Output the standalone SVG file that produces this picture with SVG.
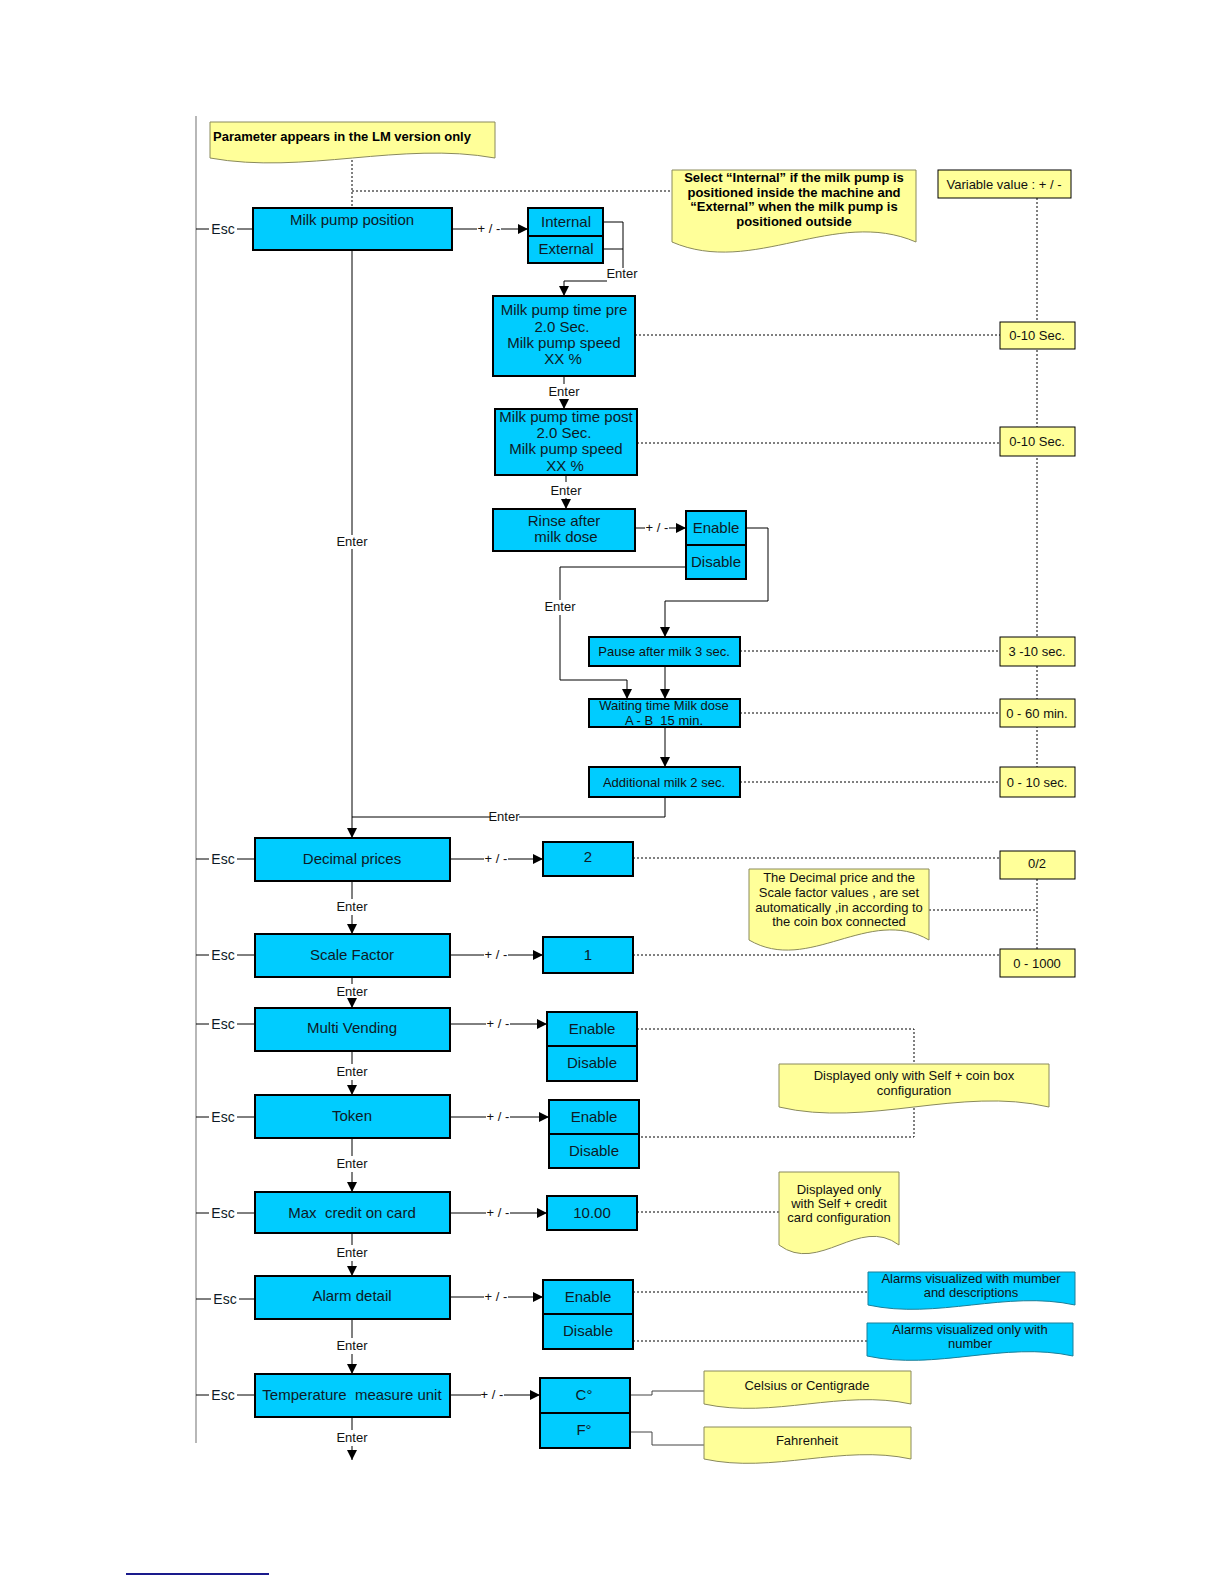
<svg xmlns="http://www.w3.org/2000/svg" width="1224" height="1584" viewBox="0 0 1224 1584">
<defs>
<marker id="ar" viewBox="0 0 10 10" refX="10" refY="5" markerWidth="10" markerHeight="10" markerUnits="userSpaceOnUse" orient="auto"><path d="M0,0 L10,5 L0,10 z" fill="#000"/></marker>
<style>
.box{fill:#00CCFF;stroke:#000;stroke-width:2}
.val{fill:#FFFF99;stroke:#000;stroke-width:1}
.note{fill:#FFFF99;stroke:#8a8a5c;stroke-width:1}
.bnote{fill:#00CCFF;stroke:#1a7f99;stroke-width:1}
text{font-family:"Liberation Sans",Arial,sans-serif;fill:#0d1a26;text-anchor:middle}
.t{font-size:15px}
.s{font-size:13px;fill:#111}
.e{font-size:14px;fill:#111}
.b{font-size:13px;font-weight:bold;fill:#000}
.ln{stroke:#000;stroke-width:1;fill:none}
.ar{marker-end:url(#ar)}
.dot{stroke:#000;stroke-width:1;stroke-dasharray:2 2;fill:none}
.gr{stroke:#888;stroke-width:1.2;fill:none}
.thin{stroke:#444;stroke-width:1;fill:none}
</style>
</defs>
<rect width="1224" height="1584" fill="#fff"/>

<g id="connectors">
<path class="gr" d="M196,116 V1443"/>
<path class="ln" d="M196,229 H209 M237,229 H253 M196,859 H209 M237,859 H255 M196,955 H209 M237,955 H255 M196,1024 H209 M237,1024 H255 M196,1117 H209 M237,1117 H255 M196,1213 H209 M237,1213 H255 M196,1299 H211 M239,1299 H255 M196,1395 H209 M237,1395 H255"/>
<g class="e"><text x="223" y="234">Esc</text><text x="223" y="864">Esc</text><text x="223" y="960">Esc</text><text x="223" y="1029">Esc</text><text x="223" y="1122">Esc</text><text x="223" y="1218">Esc</text><text x="225" y="1304">Esc</text><text x="223" y="1400">Esc</text></g>
<path class="dot" d="M352,160 V208 M352,191 H672"/>
<path class="ln" d="M352,250 V535"/>
<path class="ln ar" d="M352,549 V838"/>
<text class="s" x="352" y="546">Enter</text>
<path class="ln" d="M452,229 H477"/>
<text class="s" x="489" y="233">+ / -</text>
<path class="ln ar" d="M501,229 H528"/>
<path class="ln" d="M603,222 H623 V268 M603,249 H623"/>
<text class="s" x="622" y="278">Enter</text>
<path class="ln ar" d="M607,281 H564 V296"/>
<path class="ln" d="M564,376 V384"/>
<text class="s" x="564" y="396">Enter</text>
<path class="ln ar" d="M564,399 V409"/>
<path class="ln" d="M566,475 V482"/>
<text class="s" x="566" y="495">Enter</text>
<path class="ln ar" d="M566,498 V509"/>
<path class="ln" d="M635,528 H645"/>
<text class="s" x="657" y="532">+ / -</text>
<path class="ln ar" d="M669,528 H686"/>
<path class="ln ar" d="M746,528 H768 V601 H665 V637"/>
<path class="ln" d="M686,567 H560 V600"/>
<text class="s" x="560" y="611">Enter</text>
<path class="ln ar" d="M560,615 V680 H627 V699"/>
<path class="ln ar" d="M665,666 V699"/>
<path class="ln ar" d="M665,727 V767"/>
<path class="ln" d="M665,797 V817 H519 M490,817 H352"/>
<text class="s" x="504" y="821">Enter</text>
<path class="dot" d="M635,335 H1000 M637,443 H1000 M740,651 H1000 M740,713 H1000 M740,782 H1000"/>
<path class="dot" d="M1037,198 V767 M1037,879 V949"/>
<path class="ln" d="M450,859 H484"/>
<text class="s" x="496" y="863">+ / -</text>
<path class="ln ar" d="M508,859 H543"/>
<path class="ln" d="M352,881 V899"/>
<text class="s" x="352" y="911">Enter</text>
<path class="ln ar" d="M352,915 V934"/>
<path class="dot" d="M633,858 H1000 M929,910 H1037 M633,955 H1000"/>
<path class="ln" d="M450,955 H484"/>
<text class="s" x="496" y="959">+ / -</text>
<path class="ln ar" d="M508,955 H543"/>
<path class="ln" d="M352,977 V984"/>
<text class="s" x="352" y="996">Enter</text>
<path class="ln ar" d="M352,1000 V1008"/>
<path class="ln" d="M450,1024 H486"/>
<text class="s" x="498" y="1028">+ / -</text>
<path class="ln ar" d="M510,1024 H547"/>
<path class="ln" d="M352,1051 V1064"/>
<text class="s" x="352" y="1076">Enter</text>
<path class="ln ar" d="M352,1080 V1095"/>
<path class="dot" d="M637,1029 H914 V1137 H639"/>
<path class="ln" d="M450,1117 H486"/>
<text class="s" x="498" y="1121">+ / -</text>
<path class="ln ar" d="M510,1117 H549"/>
<path class="ln" d="M352,1138 V1156"/>
<text class="s" x="352" y="1168">Enter</text>
<path class="ln ar" d="M352,1172 V1192"/>
<path class="ln" d="M450,1213 H486"/>
<text class="s" x="498" y="1217">+ / -</text>
<path class="ln ar" d="M510,1213 H547"/>
<path class="dot" d="M637,1212 H779"/>
<path class="ln" d="M352,1233 V1245"/>
<text class="s" x="352" y="1257">Enter</text>
<path class="ln ar" d="M352,1261 V1276"/>
<path class="ln" d="M450,1297 H484"/>
<text class="s" x="496" y="1301">+ / -</text>
<path class="ln ar" d="M508,1297 H543"/>
<path class="dot" d="M633,1292 H868 M633,1341 H867"/>
<path class="ln" d="M352,1319 V1338"/>
<text class="s" x="352" y="1350">Enter</text>
<path class="ln ar" d="M352,1354 V1374"/>
<path class="ln" d="M450,1395 H481"/>
<text class="s" x="492" y="1399">+ / -</text>
<path class="ln ar" d="M504,1395 H540"/>
<path class="thin" d="M630,1395 H652 V1391 H704 M630,1432 H652 V1445 H704"/>
<path class="ln" d="M352,1417 V1430"/>
<text class="s" x="352" y="1442">Enter</text>
<path class="ln ar" d="M352,1446 V1460"/>
<path d="M126,1574 H269" stroke="#1a1a8c" stroke-width="2"/>
</g>

<g id="note-lm"><path class="note" d="M210,122 H495 V158 C401,141 304,175 210,158 Z"/><text class="b" x="213" y="141" style="text-anchor:start">Parameter appears in the LM version only</text></g>
<g id="milk-pump-position"><rect class="box" x="253" y="208" width="199" height="42"/><text class="t" x="352" y="225">Milk pump position</text></g>
<g id="internal"><rect class="box" x="528" y="208" width="75" height="28"/><text class="t" x="566" y="227">Internal</text></g>
<g id="external"><rect class="box" x="528" y="236" width="75" height="27"/><text class="t" x="566" y="254">External</text></g>
<g id="note-select"><path class="note" d="M672,170 H916 V242 C835,207 753,277 672,242 Z"/><text class="b" x="794" y="182">Select “Internal” if the milk pump is</text><text class="b" x="794" y="197">positioned inside the machine and</text><text class="b" x="794" y="211">“External” when the milk pump is</text><text class="b" x="794" y="226">positioned outside</text></g>
<g id="variable-value"><rect class="val" x="938" y="170" width="133" height="28"/><text class="s" x="1004" y="189">Variable value : + / -</text></g>
<g id="milk-pre"><rect class="box" x="493" y="296" width="142" height="80"/><text class="t" x="564" y="315">Milk pump time pre</text><text class="t" x="562" y="332">2.0 Sec.</text><text class="t" x="564" y="348">Milk pump speed</text><text class="t" x="563" y="364">XX %</text></g>
<g id="val-pre"><rect class="val" x="1000" y="322" width="75" height="27"/><text class="s" x="1037" y="340">0-10 Sec.</text></g>
<g id="milk-post"><rect class="box" x="495" y="409" width="142" height="66"/><text class="t" x="566" y="422">Milk pump time post</text><text class="t" x="564" y="438">2.0 Sec.</text><text class="t" x="566" y="454">Milk pump speed</text><text class="t" x="565" y="471">XX %</text></g>
<g id="val-post"><rect class="val" x="1000" y="427" width="75" height="29"/><text class="s" x="1037" y="446">0-10 Sec.</text></g>
<g id="rinse"><rect class="box" x="493" y="509" width="142" height="42"/><text class="t" x="564" y="526">Rinse after</text><text class="t" x="566" y="542">milk dose</text></g>
<g id="rinse-enable"><rect class="box" x="686" y="511" width="60" height="34"/><text class="t" x="716" y="533">Enable</text></g>
<g id="rinse-disable"><rect class="box" x="686" y="545" width="60" height="34"/><text class="t" x="716" y="567">Disable</text></g>
<g id="pause"><rect class="box" x="589" y="637" width="151" height="29"/><text class="s" x="664" y="656">Pause after milk 3 sec.</text></g>
<g id="val-pause"><rect class="val" x="1000" y="637" width="75" height="29"/><text class="s" x="1037" y="656">3 -10 sec.</text></g>
<g id="waiting"><rect class="box" x="589" y="699" width="151" height="28"/><text class="s" x="664" y="710">Waiting time Milk dose</text><text class="s" x="664" y="725">A - B&#160; 15 min.</text></g>
<g id="val-waiting"><rect class="val" x="1000" y="699" width="75" height="28"/><text class="s" x="1037" y="718">0 - 60 min.</text></g>
<g id="additional"><rect class="box" x="589" y="767" width="151" height="30"/><text class="s" x="664" y="787">Additional milk 2 sec.</text></g>
<g id="val-additional"><rect class="val" x="1000" y="767" width="75" height="30"/><text class="s" x="1037" y="787">0 - 10 sec.</text></g>
<g id="decimal"><rect class="box" x="255" y="838" width="195" height="43"/><text class="t" x="352" y="864">Decimal prices</text></g>
<g id="val-2"><rect class="box" x="543" y="842" width="90" height="34"/><text class="t" x="588" y="862">2</text></g>
<g id="range-02"><rect class="val" x="1000" y="851" width="75" height="28"/><text class="s" x="1037" y="868">0/2</text></g>
<g id="note-decimal"><path class="note" d="M749,869 H929 V940 C869,905 809,975 749,940 Z"/><text class="s" x="839" y="882">The Decimal price and the</text><text class="s" x="839" y="897">Scale factor values , are set</text><text class="s" x="839" y="912">automatically ,in according to</text><text class="s" x="839" y="926">the coin box connected</text></g>
<g id="scale"><rect class="box" x="255" y="934" width="195" height="43"/><text class="t" x="352" y="960">Scale Factor</text></g>
<g id="val-1"><rect class="box" x="543" y="937" width="90" height="36"/><text class="t" x="588" y="960">1</text></g>
<g id="range-1000"><rect class="val" x="1000" y="949" width="75" height="28"/><text class="s" x="1037" y="968">0 - 1000</text></g>
<g id="multi-vending"><rect class="box" x="255" y="1008" width="195" height="43"/><text class="t" x="352" y="1033">Multi Vending</text></g>
<g id="mv-enable"><rect class="box" x="547" y="1012" width="90" height="34"/><text class="t" x="592" y="1034">Enable</text></g>
<g id="mv-disable"><rect class="box" x="547" y="1046" width="90" height="35"/><text class="t" x="592" y="1068">Disable</text></g>
<g id="note-coin"><path class="note" d="M779,1064 H1049 V1107 C960,1086 868,1128 779,1107 Z"/><text class="s" x="914" y="1080">Displayed only with Self + coin box</text><text class="s" x="914" y="1095">configuration</text></g>
<g id="token"><rect class="box" x="255" y="1095" width="195" height="43"/><text class="t" x="352" y="1121">Token</text></g>
<g id="token-enable"><rect class="box" x="549" y="1100" width="90" height="34"/><text class="t" x="594" y="1122">Enable</text></g>
<g id="token-disable"><rect class="box" x="549" y="1134" width="90" height="34"/><text class="t" x="594" y="1156">Disable</text></g>
<g id="max-credit"><rect class="box" x="255" y="1192" width="195" height="41"/><text class="t" x="352" y="1218">Max&#160; credit on card</text></g>
<g id="val-credit"><rect class="box" x="547" y="1196" width="90" height="34"/><text class="t" x="592" y="1218">10.00</text></g>
<g id="note-credit"><path class="note" d="M779,1172 H899 V1245 C859,1215 819,1275 779,1245 Z"/><text class="s" x="839" y="1194">Displayed only</text><text class="s" x="839" y="1208">with Self + credit</text><text class="s" x="839" y="1222">card configuration</text></g>
<g id="alarm"><rect class="box" x="255" y="1276" width="195" height="43"/><text class="t" x="352" y="1301">Alarm detail</text></g>
<g id="alarm-enable"><rect class="box" x="543" y="1280" width="90" height="34"/><text class="t" x="588" y="1302">Enable</text></g>
<g id="alarm-disable"><rect class="box" x="543" y="1314" width="90" height="35"/><text class="t" x="588" y="1336">Disable</text></g>
<g id="note-alarm1"><path class="bnote" d="M868,1272 H1075 V1305 C1006,1290 937,1320 868,1305 Z"/><text class="s" x="971" y="1283">Alarms visualized with mumber</text><text class="s" x="971" y="1297">and descriptions</text></g>
<g id="note-alarm2"><path class="bnote" d="M867,1323 H1073 V1356 C1004,1341 936,1371 867,1356 Z"/><text class="s" x="970" y="1334">Alarms visualized only with</text><text class="s" x="970" y="1348">number</text></g>
<g id="temperature"><rect class="box" x="255" y="1374" width="195" height="43"/><text class="t" x="352" y="1400">Temperature&#160; measure unit</text></g>
<g id="celsius"><rect class="box" x="540" y="1378" width="90" height="35"/><text class="t" x="584" y="1400">C°</text></g>
<g id="fahrenheit"><rect class="box" x="540" y="1413" width="90" height="35"/><text class="t" x="584" y="1435">F°</text></g>
<g id="note-celsius"><path class="note" d="M704,1371 H911 V1404 C842,1389 773,1419 704,1404 Z"/><text class="s" x="807" y="1390">Celsius or Centigrade</text></g>
<g id="note-fahrenheit"><path class="note" d="M704,1427 H911 V1459 C842,1444 773,1474 704,1459 Z"/><text class="s" x="807" y="1445">Fahrenheit</text></g>
</svg>
